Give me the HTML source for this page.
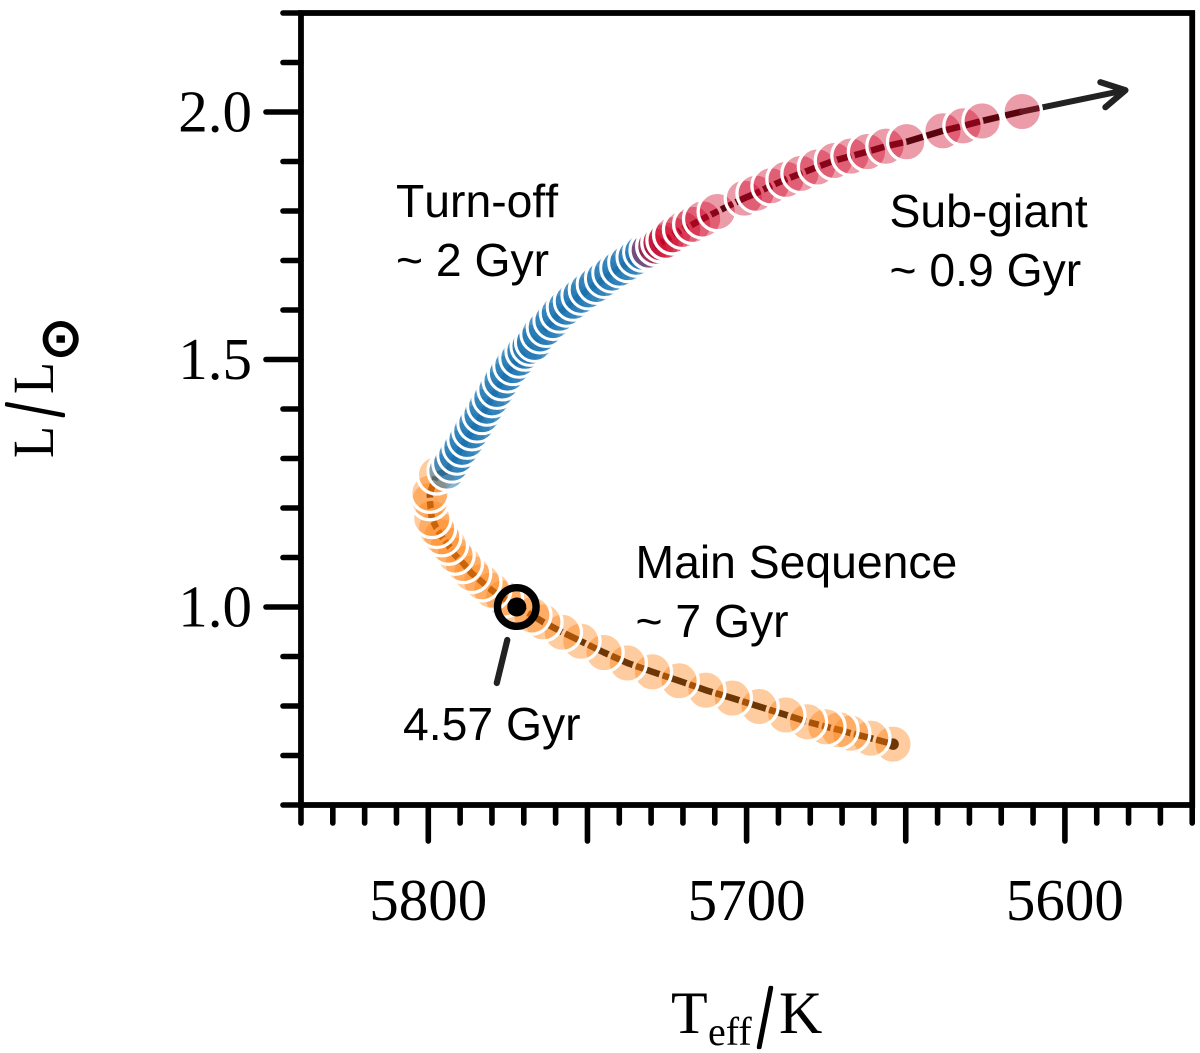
<!DOCTYPE html>
<html>
<head>
<meta charset="utf-8">
<title>Solar evolution track</title>
<style>
  html, body { margin: 0; padding: 0; background: #fff; }
  svg { display: block; }
  .serif { font-family: "Liberation Serif", serif; fill: #000; }
  .sans { font-family: "Liberation Sans", sans-serif; fill: #000; font-size: 46.3px; }
</style>
</head>
<body>
<svg id="chart" xmlns="http://www.w3.org/2000/svg" width="1200" height="1053" viewBox="0 0 1200 1053">
  <g id="line-layer"></g>
  <g id="marker-layer"></g>
  <g id="annotation-layer"></g>
  <g id="axis-layer"></g>

  <text class="sans" x="396" y="217" style="font-kerning:none">Turn-off</text>
  <text class="sans" x="396" y="276">~ 2 Gyr</text>
  <text class="sans" x="889.5" y="227">Sub-giant</text>
  <text class="sans" x="889.5" y="286">~ 0.9 Gyr</text>
  <text class="sans" x="635.5" y="578">Main Sequence</text>
  <text class="sans" x="635.5" y="637">~ 7 Gyr</text>
  <text class="sans" x="403" y="740">4.57 Gyr</text>

  <g>
    <text class="serif" x="671" y="1033" font-size="60">T</text>
    <text class="serif" x="708" y="1045" font-size="40">eff</text>
    <text class="serif" x="765" y="1046" font-size="88" text-anchor="middle" stroke="#000" stroke-width="4.2" stroke-linejoin="round" textLength="14" lengthAdjust="spacingAndGlyphs">/</text>
    <text class="serif" x="779" y="1033" font-size="60">K</text>
  </g>
  <g transform="translate(53,458) rotate(-90)">
    <text class="serif" x="0" y="0" font-size="58" textLength="32" lengthAdjust="spacingAndGlyphs">L</text>
    <text class="serif" x="48.3" y="9" font-size="84" text-anchor="middle" stroke="#000" stroke-width="4" stroke-linejoin="round" textLength="13" lengthAdjust="spacingAndGlyphs">/</text>
    <text class="serif" x="64" y="0" font-size="58" textLength="32" lengthAdjust="spacingAndGlyphs">L</text>
    <text x="97.2" y="24" font-size="52" font-family="'DejaVu Sans', sans-serif" fill="#000" stroke="#000" stroke-width="2">⊙</text>
  </g>
</svg>

<script>
// Data: effective temperature (K) and luminosity (L/Lsun)
var mainSequenceTeff = [5654.0,5661.0,5667.3,5671.0,5675.1,5680.9,5687.7,5696.1,5704.5,5712.8,5721.2,5729.6,5737.5,5744.8,5752.1,5757.9,5764.0,5767.5,5772.2,5776.4,5780.1,5783.2,5786.4,5789.0,5791.6,5793.7,5795.8,5797.4,5798.9,5799.5,5799.5,5797.4];
var mainSequenceLum = [0.723,0.735,0.745,0.752,0.758,0.768,0.782,0.799,0.816,0.832,0.851,0.869,0.887,0.908,0.931,0.949,0.970,0.984,1.001,1.018,1.034,1.051,1.068,1.088,1.105,1.125,1.142,1.159,1.179,1.215,1.230,1.267];
var turnOffTeff = [5794.1,5792.6,5791.0,5789.4,5787.8,5786.3,5784.7,5783.1,5781.6,5780.0,5778.4,5776.8,5775.1,5773.4,5771.5,5769.6,5768.0,5766.6,5764.9,5762.9,5760.8,5758.8,5756.6,5754.4,5752.0,5749.7,5747.2,5744.6,5742.3,5739.8,5737.3,5734.7,5732.6];
var turnOffLum = [1.275,1.291,1.307,1.323,1.339,1.356,1.372,1.389,1.406,1.423,1.440,1.457,1.473,1.488,1.503,1.517,1.527,1.535,1.552,1.565,1.579,1.594,1.606,1.618,1.630,1.641,1.652,1.664,1.675,1.685,1.696,1.707,1.717];
var subGiantTeff = [5730.6,5728.5,5726.9,5725.3,5723.2,5720.1,5716.9,5713.8,5709.2,5700.7,5697.0,5692.3,5687.6,5682.9,5677.7,5672.4,5667.2,5662.0,5656.2,5649.7,5638.3,5632.0,5626.0,5613.4];
var subGiantLum = [1.721,1.729,1.736,1.741,1.752,1.763,1.773,1.784,1.799,1.826,1.836,1.851,1.864,1.876,1.889,1.902,1.911,1.920,1.931,1.940,1.962,1.972,1.982,2.001];
var sunTeff = [5772.2];
var sunLum = [1.0];
var arrowTipTeff = [5581.0];
var arrowTipLum = [2.044];
var xTickValues = [5840,5830,5820,5810,5800,5790,5780,5770,5760,5750,5740,5730,5720,5710,5700,5690,5680,5670,5660,5650,5640,5630,5620,5610,5600,5590,5580,5570,5560];
var xMajorValues = [5800,5750,5700,5650,5600];
var xLabelValues = [5800,5700,5600];
var xTickLabels = ['5800','5700','5600'];
var yTickValues = [0.6,0.7,0.8,0.9,1.0,1.1,1.2,1.3,1.4,1.5,1.6,1.7,1.8,1.9,2.0,2.1,2.2];
var yMajorValues = [1.0,1.5,2.0];
var yLabelValues = [1.0,1.5,2.0];
var yTickLabels = ['1.0','1.5','2.0'];

var SVGNS = 'http://www.w3.org/2000/svg';
function xScale(t) { return 428.3 + (5800 - t) * 3.183; }
function yScale(l) { return 607 - (l - 1) * 495; }
function make(tag, attrs, parent) {
  var el = document.createElementNS(SVGNS, tag);
  for (var k in attrs) { el.setAttribute(k, attrs[k]); }
  parent.appendChild(el);
  return el;
}

var lineLayer = document.getElementById('line-layer');
var markerLayer = document.getElementById('marker-layer');
var annotationLayer = document.getElementById('annotation-layer');
var axisLayer = document.getElementById('axis-layer');

// Track line running under the markers
var allTeff = mainSequenceTeff.concat(turnOffTeff, subGiantTeff);
var allLum = mainSequenceLum.concat(turnOffLum, subGiantLum);
var pts = allTeff.map(function (t, i) { return xScale(t).toFixed(1) + ',' + yScale(allLum[i]).toFixed(1); });
var trackLine = make('polyline', { points: pts.join(' '), fill: 'none', stroke: '#0a0500', 'stroke-width': 6.5, 'stroke-linejoin': 'round' }, lineLayer);


var startDot = make('circle', { cx: xScale(allTeff[0]), cy: yScale(allLum[0]), r: 5.8, fill: '#0a0500' }, lineLayer);



// Arrow continuing the track off the last point
var lastX = xScale(allTeff[allTeff.length - 1]);
var lastY = yScale(allLum[allLum.length - 1]);
var tipX = xScale(arrowTipTeff[0]);
var tipY = yScale(arrowTipLum[0]);
var arrowShaft = make('line', { x1: lastX, y1: lastY, x2: tipX, y2: tipY, stroke: '#222', 'stroke-width': 6, 'stroke-linecap': 'round' }, lineLayer);


var arrowHead = make('polyline', { points: (tipX - 25) + ',' + (tipY - 8) + ' ' + tipX + ',' + tipY + ' ' + (tipX - 20) + ',' + (tipY + 17), fill: 'none', stroke: '#222', 'stroke-width': 6.2, 'stroke-linecap': 'round', 'stroke-linejoin': 'round' }, lineLayer);



function drawMarkers(teff, lum, color, alpha, edge) {
  teff.forEach(function (t, i) {
    var c = make('circle', { cx: xScale(t), cy: yScale(lum[i]), r: 19.2, fill: color, 'fill-opacity': alpha, stroke: '#fff', 'stroke-width': edge }, markerLayer);
    
    
  });
}
drawMarkers(mainSequenceTeff, mainSequenceLum, '#ff7f0e', 0.4, 3.3);
drawMarkers(turnOffTeff, turnOffLum, '#1f77b4', 0.55, 3);
drawMarkers(subGiantTeff, subGiantLum, '#cf0528', 0.4, 3.3);

// Present-day Sun marker with its pointer
var sunX = xScale(sunTeff[0]);
var sunY = yScale(sunLum[0]);
var sunRing = make('circle', { cx: sunX, cy: sunY, r: 19.3, fill: 'none', stroke: '#000', 'stroke-width': 7.4 }, annotationLayer);


var sunDot = make('circle', { cx: sunX, cy: sunY, r: 9.5, fill: '#000' }, annotationLayer);


var sunPointer = make('line', { x1: sunX - 9.5, y1: sunY + 33, x2: sunX - 20, y2: sunY + 76, stroke: '#222', 'stroke-width': 6.2, 'stroke-linecap': 'round' }, annotationLayer);



// Axes
var frame = make('rect', { x: xScale(5840), y: yScale(2.2), width: xScale(5560) - xScale(5840), height: yScale(0.6) - yScale(2.2), fill: 'none', stroke: '#000', 'stroke-width': 5.8 }, axisLayer);



xTickValues.forEach(function (v) {
  var len = xMajorValues.indexOf(v) >= 0 ? 36 : 18;
  var x = xScale(v);
  var tick = make('line', { x1: x, y1: yScale(0.6), x2: x, y2: yScale(0.6) + len, stroke: '#000', 'stroke-width': 5.6, 'stroke-linecap': 'round' }, axisLayer);
  
  
});
yTickValues.forEach(function (v) {
  var len = yMajorValues.indexOf(v) >= 0 ? 35 : 18;
  var y = yScale(v);
  var tick = make('line', { x1: xScale(5840), y1: y, x2: xScale(5840) - len, y2: y, stroke: '#000', 'stroke-width': 5.6, 'stroke-linecap': 'round' }, axisLayer);
  
  
});
xLabelValues.forEach(function (v, i) {
  var label = make('text', { x: xScale(v), y: 920, 'text-anchor': 'middle', 'font-size': 59, 'class': 'serif' }, axisLayer);
  label.textContent = xTickLabels[i];
  
  
});
yLabelValues.forEach(function (v, i) {
  var label = make('text', { x: 252, y: yScale(v) + 19.5, 'text-anchor': 'end', 'font-size': 59, 'class': 'serif' }, axisLayer);
  label.textContent = yTickLabels[i];
  
  
});
</script>
</body>
</html>
